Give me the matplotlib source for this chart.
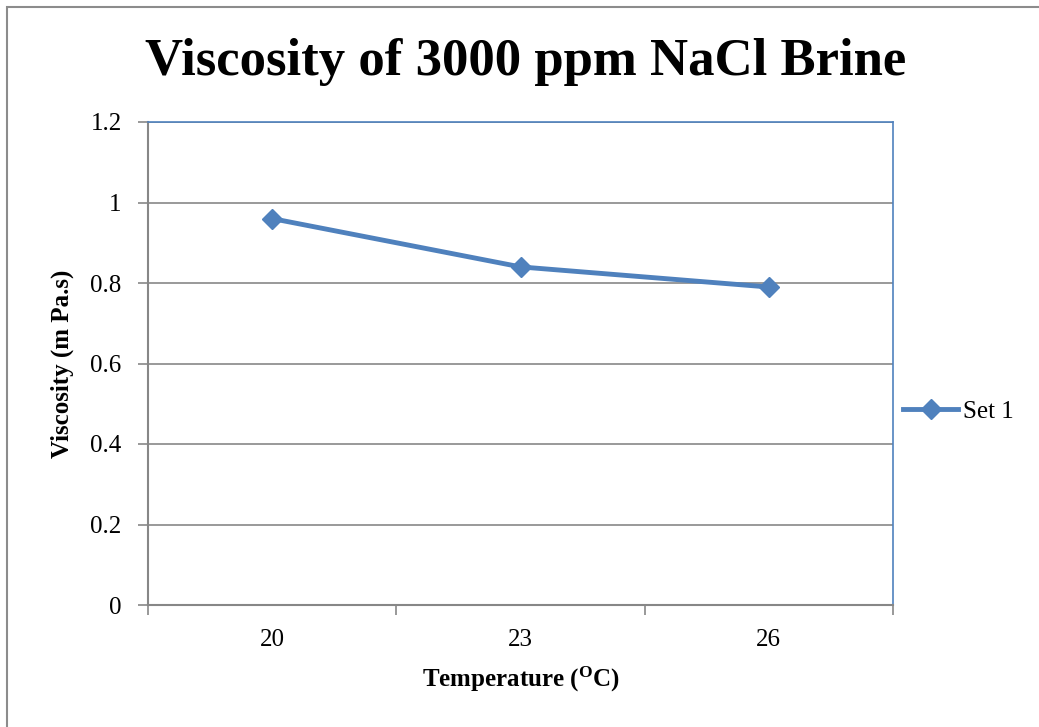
import numpy as np
import matplotlib.pyplot as plt
from matplotlib.patches import Rectangle

# data
temps = ['20', '23', '26']
viscosity = [0.96, 0.84, 0.79]
y_ticks = [0, 0.2, 0.4, 0.6, 0.8, 1, 1.2]
y_labels = ['0', '0.2', '0.4', '0.6', '0.8', '1', '1.2']

blue = '#4F81BD'
grey = '#878787'

plt.rcParams['font.family'] = ['Liberation Serif', 'DejaVu Serif']

fig = plt.figure(figsize=(10.39, 7.27), dpi=100)
ax = fig.add_axes([148 / 1039, 1 - 605 / 727, (893 - 148) / 1039, (605 - 122) / 727])

# outer chart border (runs off the right and bottom edge)
fig.patches.append(Rectangle((7 / 1039, -0.1), 1.2, 1 - 7 / 727 + 0.1,
                             transform=fig.transFigure, fill=False,
                             edgecolor='#8c8c8c', linewidth=1.5))

x = np.arange(len(temps))
ax.plot(x, viscosity, color=blue, linewidth=3.5, marker='D', markersize=10,
        label='Set 1', zorder=3)

ax.set_xlim(-0.5, len(temps) - 0.5)
ax.set_ylim(0, 1.2)
ax.set_yticks(y_ticks)
ax.set_yticklabels(y_labels, fontsize=18)
ax.set_xticks(x)
ax.set_xticklabels(temps, fontsize=18)
ax.tick_params(axis='x', which='major', length=0, pad=17)
ax.set_xticks(np.arange(-0.5, len(temps)), minor=True)
ax.tick_params(axis='x', which='minor', length=7, color=grey, width=1.2, direction='out')
ax.tick_params(axis='y', length=7, color=grey, width=1.2, direction='out', pad=12)

ax.grid(axis='y', color=grey, linewidth=1.2)
ax.set_axisbelow(True)
for side in ['top', 'right']:
    ax.spines[side].set_color(blue)
    ax.spines[side].set_linewidth(1.2)
for side in ['left', 'bottom']:
    ax.spines[side].set_color(grey)
    ax.spines[side].set_linewidth(1.5)

ax.set_xlabel('Temperature ($\\mathregular{^{O}}$C)', fontsize=18, fontweight='bold', labelpad=10)
ax.set_ylabel('Viscosity (m Pa.s)', fontsize=18, fontweight='bold', labelpad=12)

fig.text(0.506, 1 - 62 / 727, 'Viscosity of 3000 ppm NaCl Brine', fontsize=38,
         fontweight='bold', ha='center', va='center')

ax.legend(loc='center left', bbox_to_anchor=(1.0, 0.4), frameon=False, fontsize=18,
          handlelength=2.2, handletextpad=0.2, borderaxespad=0.0)

fig.savefig('out.png', dpi=100)
